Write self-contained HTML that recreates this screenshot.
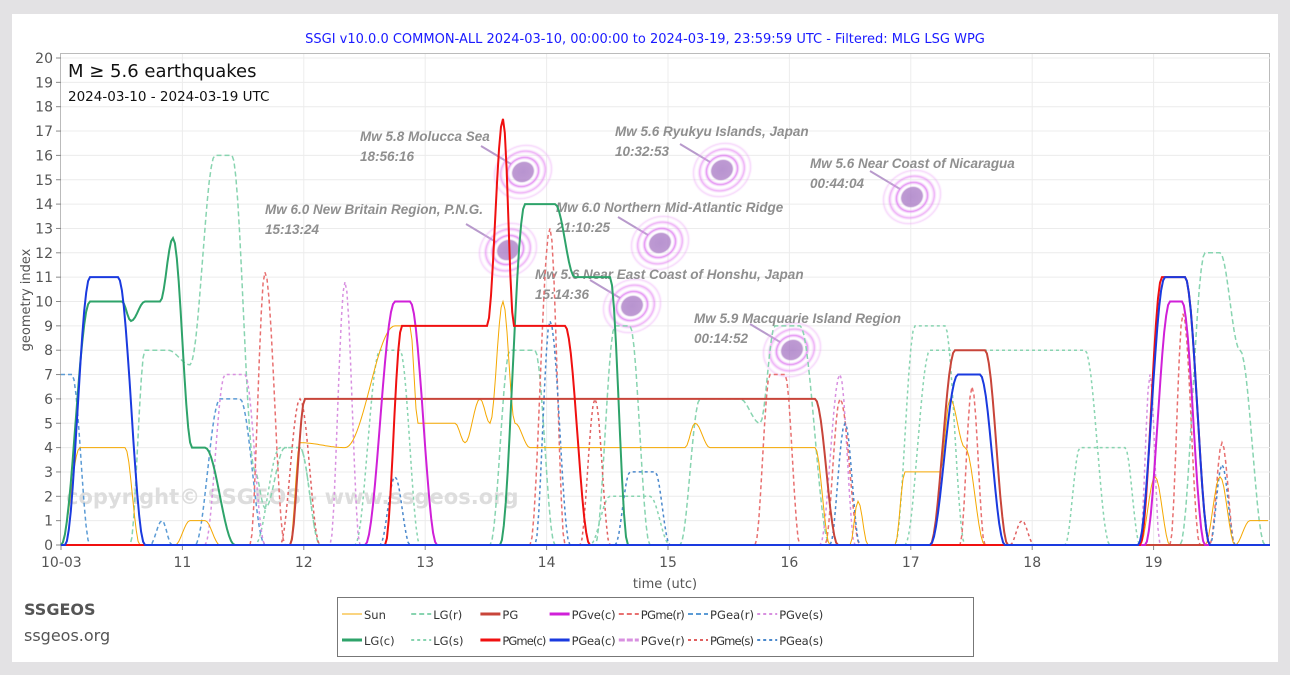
<!DOCTYPE html>
<html><head><meta charset="utf-8"><style>
body{margin:0;background:#e3e2e4;}
#p{position:absolute;left:12px;top:14px;width:1266px;height:648px;background:#fff;}
svg{position:absolute;left:0;top:0;}
text{font-family:"DejaVu Sans","Liberation Sans",sans-serif;}
text.an{font-family:"Liberation Sans","DejaVu Sans",sans-serif;}
</style></head><body>
<div id="p"></div>
<svg id="s" width="1290" height="675" xmlns="http://www.w3.org/2000/svg">
<defs>
<radialGradient id="rg" cx="50%" cy="50%" r="50%">
<stop offset="0" stop-color="#a070c0" stop-opacity=".75"/>
<stop offset=".33" stop-color="#a878c4" stop-opacity=".75"/>
<stop offset=".4" stop-color="#fff" stop-opacity="0"/>
<stop offset=".5" stop-color="#d860ee" stop-opacity=".7"/>
<stop offset=".6" stop-color="#fff" stop-opacity="0"/>
<stop offset=".72" stop-color="#e070f0" stop-opacity=".55"/>
<stop offset=".82" stop-color="#fff" stop-opacity="0"/>
<stop offset=".92" stop-color="#e890f5" stop-opacity=".35"/>
<stop offset="1" stop-color="#fff" stop-opacity="0"/>
</radialGradient>
</defs>
<text x="645" y="43" font-size="13" fill="#1a1aff" text-anchor="middle">SSGI v10.0.0 COMMON-ALL 2024-03-10, 00:00:00 to 2024-03-19, 23:59:59 UTC - Filtered: MLG LSG WPG</text>
<rect x="60.5" y="53.5" width="1209" height="492" fill="none" stroke="#bbb"/>
<g id="grid"></g>
<text x="66" y="504" font-size="21" font-weight="bold" fill="#ddd">copyright© SSGEOS - www.ssgeos.org</text>
<g id="ann"></g>
<g id="ser"></g>
<text x="68" y="77" font-size="18" fill="#111">M ≥ 5.6 earthquakes</text>
<text x="68" y="101" font-size="13.5" fill="#111">2024-03-10 - 2024-03-19 UTC</text>
<text x="30" y="300" font-size="13" fill="#555" transform="rotate(-90 30 300)" text-anchor="middle">geometry index</text>
<text x="665" y="588" font-size="13" fill="#555" text-anchor="middle">time (utc)</text>
<text x="24" y="615" font-size="16" font-weight="bold" fill="#555">SSGEOS</text>
<text x="24" y="641" font-size="16" fill="#555">ssgeos.org</text>
<rect x="337.5" y="597.5" width="636" height="59" fill="#fff" stroke="#777"/>
<g id="leg"></g>
</svg>
<script>
const NS="http://www.w3.org/2000/svg";
function el(p,t,a,txt){const e=document.createElementNS(NS,t);for(const k in a)if(a[k]!==undefined)e.setAttribute(k,a[k]);if(txt!==undefined)e.textContent=txt;p.appendChild(e);return e;}
const Y=v=>545-v*24.35;
const g=document.getElementById('grid');
for(let v=0;v<=20;v++){const y=Y(v);
 if(v>0)el(g,'line',{x1:61,x2:1270,y1:y,y2:y,stroke:'#ececec'});
 el(g,'line',{x1:56,x2:61,y1:y,y2:y,stroke:'#888'});
 el(g,'text',{x:53,y:y+5,'font-size':14,fill:'#555','text-anchor':'end'},v);}
const xl=['10-03','11','12','13','14','15','16','17','18','19'];
xl.forEach((l,i)=>{const x=61+i*121.4;
 if(i>0)el(g,'line',{x1:x,x2:x,y1:54,y2:545,stroke:'#ececec'});
 el(g,'line',{x1:x,x2:x,y1:545,y2:550,stroke:'#888'});
 el(g,'text',{x:i==0?x-20:x,y:567,'font-size':14,fill:'#555','text-anchor':i==0?'start':'middle'},l);});
el(g,'line',{x1:61,x2:1270,y1:545.5,y2:545.5,stroke:'#888'});
function path(pts){let d='M'+pts[0][0]+','+Y(pts[0][1]).toFixed(1);
 for(let i=1;i<pts.length;i++){const [x0,v0]=pts[i-1],[x1,v1]=pts[i];
  const n=Math.max(2,Math.round((x1-x0)/2));
  for(let k=1;k<=n;k++){const t=k/n,s=(1-Math.cos(Math.PI*t))/2;
   d+=' L'+(x0+(x1-x0)*t).toFixed(1)+','+Y(v0+(v1-v0)*s).toFixed(1);}}
 return d;}
const S=document.getElementById('ser');
function draw(pts,c,w,da){el(S,'path',{d:path(pts),fill:'none',stroke:c,'stroke-width':w,'stroke-dasharray':da||'none'});}
draw([[61,7],[72,7],[90,0],[150,0],[162,1],[172,0],[195,0],[220,6],[240,6],[265,0],[1270,0]],'#5b9bd5',1.5,'4,3');
draw([[61,0],[130,0],[145,8],[168,8],[190,7.4],[215,16],[232,16],[255,3],[265,1.5],[285,4],[300,4],[320,0],[490,0],[510,8],[535,8],[555,0],[595,0],[615,9],[630,9],[650,0],[680,0],[700,6],[740,6],[760,5],[775,9],[800,9],[830,0],[1180,0],[1205,12],[1220,12],[1240,8],[1265,0]],'#88d4b0',1.5,'5,3');
draw([[61,0],[255,0],[280,4],[300,4],[320,0],[355,0],[380,8],[400,8],[420,0],[590,0],[610,2],[650,2],[670,0],[895,0],[915,9],[945,9],[965,0],[905,0],[930,8],[1085,8],[1110,0],[1065,0],[1080,4],[1125,4],[1140,0],[1270,0]],'#88d4b0',1.5,'3,3');
draw([[61,0],[205,0],[225,7],[245,7],[265,0],[330,0],[345,10.8],[360,0],[820,0],[840,7],[855,0],[1140,0],[1150,7],[1160,0],[1270,0]],'#d890e0',1.5,'3,3');
draw([[61,0],[250,0],[265,11.2],[285,0],[530,0],[550,13],[565,0],[755,0],[770,7],[785,7],[800,0],[825,0],[840,6],[860,0],[960,0],[972,6.5],[985,0],[1170,0],[1183,9.5],[1200,0],[1210,0],[1222,4.2],[1235,0]],'#e87070',1.5,'4,3');
draw([[61,0],[280,0],[300,6],[320,0],[580,0],[595,6],[610,0],[1010,0],[1022,1],[1034,0],[1270,0]],'#e06060',1.5,'3,3');
draw([[61,0],[380,0],[395,2.8],[410,0],[535,0],[550,9.2],[570,0],[615,0],[630,3],[655,3],[670,0],[830,0],[845,5],[860,0],[1210,0],[1222,3.3],[1235,0]],'#4a88cc',1.5,'3,3');
draw([[61,0],[80,4],[125,4],[140,0],[175,0],[190,1],[205,1],[220,0],[290,0],[300,4.2],[345,4],[395,9],[410,9],[418,5],[455,5],[465,4.2],[480,6],[490,5],[503,10],[515,5],[530,4],[685,4],[695,5],[710,4],[815,4],[830,0],[850,0],[858,1.8],[868,0],[895,0],[905,3],[940,3],[950,6],[965,4],[985,0],[1140,0],[1155,2.8],[1170,0],[1205,0],[1220,2.8],[1235,0],[1250,1],[1268,1]],'#f5a800',1);
draw([[61,0],[90,10],[122,10],[131,9.2],[145,10],[160,10],[173,12.6],[192,4],[205,4],[235,0],[500,0],[525,14],[555,14],[575,11],[610,11],[628,0],[1270,0]],'#2ea36a',2);
draw([[61,0],[290,0],[305,6],[815,6],[838,0],[930,0],[955,8],[985,8],[1008,0],[1270,0]],'#c8453a',2);
draw([[61,0],[365,0],[395,10],[410,10],[437,0],[1145,0],[1170,10],[1182,10],[1205,0],[1270,0]],'#d020d8',2);
draw([[61,0],[385,0],[402,9],[487,9],[503,17.5],[514,9],[565,9],[590,0],[1140,0],[1162,11],[1185,11],[1210,0],[1270,0]],'#f01010',2);
draw([[61,0],[65,0],[90,11],[118,11],[145,0],[930,0],[958,7],[980,7],[1005,0],[1138,0],[1165,11],[1185,11],[1210,0],[1270,0]],'#1a3adf',2);
const A=document.getElementById('ann');
[[360,141,'Mw 5.8 Molucca Sea','18:56:16',523,172],[265,214,'Mw 6.0 New Britain Region, P.N.G.','15:13:24',508,250],
 [615,136,'Mw 5.6 Ryukyu Islands, Japan','10:32:53',722,170],[556,212,'Mw 6.0 Northern Mid-Atlantic Ridge','21:10:25',660,243],
 [535,279,'Mw 5.6 Near East Coast of Honshu, Japan','15:14:36',632,306],[810,168,'Mw 5.6 Near Coast of Nicaragua','00:44:04',912,197],
 [694,323,'Mw 5.9 Macquarie Island Region','00:14:52',792,350]].forEach(a=>{
 el(A,'line',{x1:a[4]-42,y1:a[5]-26,x2:a[4]-12,y2:a[5]-8,stroke:'#b89acc','stroke-width':2});
 el(A,'ellipse',{cx:a[4],cy:a[5],rx:32,ry:28,fill:'url(#rg)',transform:`rotate(-30 ${a[4]} ${a[5]})`});
 el(A,'text',{class:'an',x:a[0],y:a[1],'font-size':13.5,'font-weight':'bold','font-style':'italic',fill:'#8f8f8f'},a[2]);
 el(A,'text',{class:'an',x:a[0],y:a[1]+20,'font-size':13.5,'font-weight':'bold','font-style':'italic',fill:'#8f8f8f'},a[3]);});
const L=document.getElementById('leg');
const items=[['Sun','#f5a800',1,''],['LG(r)','#88d4b0',2,'5,3'],['PG','#c8453a',3,''],['PGve(c)','#d020d8',3,''],['PGme(r)','#e87070',2,'5,3'],['PGea(r)','#5b9bd5',2,'5,3'],['PGve(s)','#d890e0',2,'3,3'],
['LG(c)','#2ea36a',3,''],['LG(s)','#88d4b0',2,'3,3'],['PGme(c)','#f01010',3,''],['PGea(c)','#1a3adf',3,''],['PGve(r)','#d890e0',3,'6,2'],['PGme(s)','#e06060',2,'3,3'],['PGea(s)','#4a88cc',2,'3,3']];
items.forEach((it,i)=>{const c=i%7,r=Math.floor(i/7);const x=342+c*69.2,y=615+r*26;
 el(L,'line',{x1:x,x2:x+20,y1:y-1,y2:y-1,stroke:it[1],'stroke-width':it[2],'stroke-dasharray':it[3]||'none'});
 el(L,'text',{x:x+22,y:y+4,'font-size':11.5,fill:'#333',textLength:it[0].length>5?44:undefined},it[0]);});
</script>
</body></html>
